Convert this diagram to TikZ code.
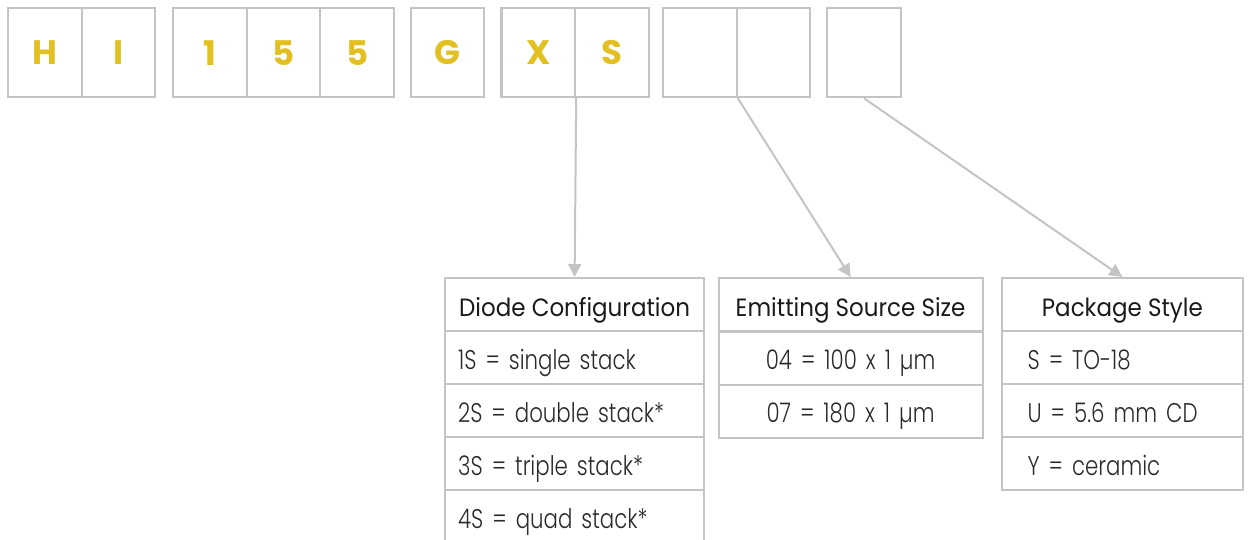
\documentclass[tikz,border=0pt]{standalone}
\usepackage{fontspec}
\setmainfont{Poppins}
\newfontfamily\headfont[FakeStretch=0.92]{Poppins}
\IfFontExistsTF{Poppins Light}{\newfontfamily\rowfont[FakeStretch=0.79]{Poppins Light}}{\newfontfamily\rowfont[FakeStretch=0.79]{Poppins}}
\usetikzlibrary{arrows.meta}
\definecolor{lg}{HTML}{C4C4C4}
\definecolor{gold}{HTML}{E2C022}
\definecolor{txt}{HTML}{1A1A1A}
\definecolor{rowtxt}{HTML}{2A2A2A}
\begin{document}
\begin{tikzpicture}[x=1pt,y=-1pt,
  letterbox/.style={draw=lg, line width=2.2pt, minimum width=73.6pt, minimum height=89pt,
    inner sep=0pt, anchor=north west, text=gold, font=\bfseries\fontsize{34}{34}\selectfont},
  cell/.style={draw=lg, line width=2.2pt, minimum height=53pt, anchor=north west, inner ysep=0pt,
    text height=25pt, text depth=2pt},
  head/.style={cell, text=txt, font=\headfont\fontsize{25}{27}\selectfont, inner xsep=2pt},
  leftrow/.style={cell, text=rowtxt, font=\rowfont\fontsize{27}{29}\selectfont, align=left},
  centrow/.style={cell, text=rowtxt, font=\rowfont\fontsize{27}{29}\selectfont, align=center},
  dhead/.style={minimum width=259pt},
  ehead/.style={minimum width=264pt},
  phead/.style={minimum width=241.5pt},
  dcol/.style={minimum width=259pt, text width=233pt, inner xsep=13pt},
  ecol/.style={minimum width=264pt, text width=240pt, inner xsep=12pt},
  pcol/.style={minimum width=241.5pt, text width=189.5pt, inner xsep=26pt},
  conn/.style={draw=lg, line width=2pt, -{Triangle[length=13pt,width=13pt]}}
]
\useasboundingbox (0,0) rectangle (1248,540);
% top code boxes
\node[letterbox] (h) at (7,7) {H};
\node[letterbox] (i) at (80.6,7) {I};
\node[letterbox] (n1) at (172,7) {1};
\node[letterbox] (n2) at (245.6,7) {5};
\node[letterbox] (n3) at (319.2,7) {5};
\node[letterbox] (g) at (409.5,7) {G};
\node[letterbox] (x) at (500.4,7) {X};
\node[letterbox] (s) at (574,7) {S};
\node[letterbox] (b1) at (662,7) {};
\node[letterbox] (b2) at (735.6,7) {};
\node[letterbox] (b3) at (826,7) {};
% Diode configuration table
\node[head, dhead] (dh) at (444,277) {Diode Configuration};
\node[leftrow, dcol] (d1) at (444,330) {1S = single stack};
\node[leftrow, dcol] (d2) at (444,383) {2S = double stack*};
\node[leftrow, dcol] (d3) at (444,436) {3S = triple stack*};
\node[leftrow, dcol] (d4) at (444,489) {4S = quad stack*};
% Emitting source size table
\node[head, ehead] (eh) at (717.5,277) {Emitting Source Size};
\node[centrow, ecol] (e1) at (717.5,330.5) {04 = 100 x 1 µm};
\node[centrow, ecol] (e2) at (717.5,383.5) {07 = 180 x 1 µm};
% Package style table
\node[head, phead] (ph) at (1000.5,277) {Package Style};
\node[leftrow, pcol] (p1) at (1000.5,330) {S = TO-18};
\node[leftrow, pcol] (p2) at (1000.5,383) {U = 5.6 mm CD};
\node[leftrow, pcol] (p3) at (1000.5,436) {Y = ceramic};
% connectors
\draw[conn] (x.south east) -- (dh.north);
\draw[conn] (b1.south east) -- (eh.north);
\draw[conn] (b3.south) -- (ph.north);
\end{tikzpicture}
\end{document}
